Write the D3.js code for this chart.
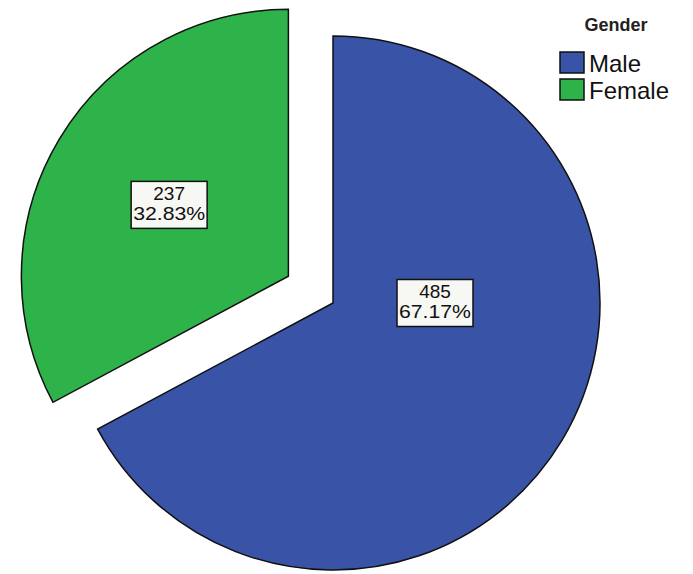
<!DOCTYPE html>
<html>
<head>
<meta charset="utf-8">
<script src="https://cdn.jsdelivr.net/npm/d3@7"></script>
<style>
  html, body { margin: 0; padding: 0; background: #fff; }
  svg { display: block; font-family: "Liberation Sans", Arial, sans-serif; }
</style>
</head>
<body>
<svg id="chart" width="693" height="574"></svg>
<script>
const categories = ["Male", "Female"];
const counts = [485, 237];
const percentLabels = ["67.17%", "32.83%"];
const colors = ["#3953a6", "#2db34a"];
const legendTitle = "Gender";

const W = 693, H = 574;
const cx = 333, cy = 303, R = 267;
const explode = [0, 52];           // px offset along slice mid-angle
const labelAngle = [Math.PI / 2, null]; // null => slice mid-angle
const labelR = [102, 139];

const svg = d3.select("#chart");
const data = categories.map((c, i) => ({ cat: c, value: counts[i], pct: percentLabels[i], color: colors[i], i }));

const pie = d3.pie().value(d => d.value).sort(null).startAngle(0).endAngle(2 * Math.PI);
const arcs = pie(data);
const arc = d3.arc().innerRadius(0).outerRadius(R);

const g = svg.append("g").attr("transform", `translate(${cx},${cy})`);

const slices = g.selectAll("g.slice").data(arcs).join("g")
  .attr("class", "slice")
  .attr("transform", d => {
    const mid = (d.startAngle + d.endAngle) / 2;
    const off = explode[d.data.i];
    return `translate(${off * Math.sin(mid)},${-off * Math.cos(mid)})`;
  });

slices.append("path")
  .attr("d", arc)
  .attr("fill", d => d.data.color)
  .attr("stroke", "#111")
  .attr("stroke-width", 1.5)
  .attr("stroke-linejoin", "miter");

// labels
const boxW = 76, boxH = 47;
slices.each(function (d) {
  const i = d.data.i;
  const a = labelAngle[i] == null ? (d.startAngle + d.endAngle) / 2 : labelAngle[i];
  const x = labelR[i] * Math.sin(a), y = -labelR[i] * Math.cos(a);
  const lg = d3.select(this).append("g").attr("transform", `translate(${x},${y})`);
  lg.append("rect")
    .attr("x", -boxW / 2).attr("y", -boxH / 2)
    .attr("width", boxW).attr("height", boxH)
    .attr("fill", "#f7f7f4").attr("stroke", "#111").attr("stroke-width", 1.5);
  lg.append("text").attr("text-anchor", "middle").attr("y", -5)
    .attr("font-size", 19).attr("fill", "#111").text(d.data.value);
  lg.append("text").attr("text-anchor", "middle").attr("y", 15)
    .attr("font-size", 19).attr("fill", "#111")
    .attr("textLength", 72).attr("lengthAdjust", "spacingAndGlyphs")
    .text(d.data.pct);
});

// legend
const lg = svg.append("g").attr("transform", "translate(560,0)");
lg.append("text").attr("x", 56).attr("y", 31).attr("text-anchor", "middle")
  .attr("font-size", 18).attr("font-weight", "bold").attr("fill", "#222").text(legendTitle);
const items = lg.selectAll("g.item").data(data).join("g")
  .attr("class", "item")
  .attr("transform", (d, i) => `translate(0,${52 + i * 27})`);
items.append("rect").attr("width", 24).attr("height", 21)
  .attr("fill", d => d.color).attr("stroke", "#111").attr("stroke-width", 1.5);
items.append("text").attr("x", 29).attr("y", 20)
  .attr("font-size", 24).attr("fill", "#111").text(d => d.cat);
</script>
</body>
</html>
